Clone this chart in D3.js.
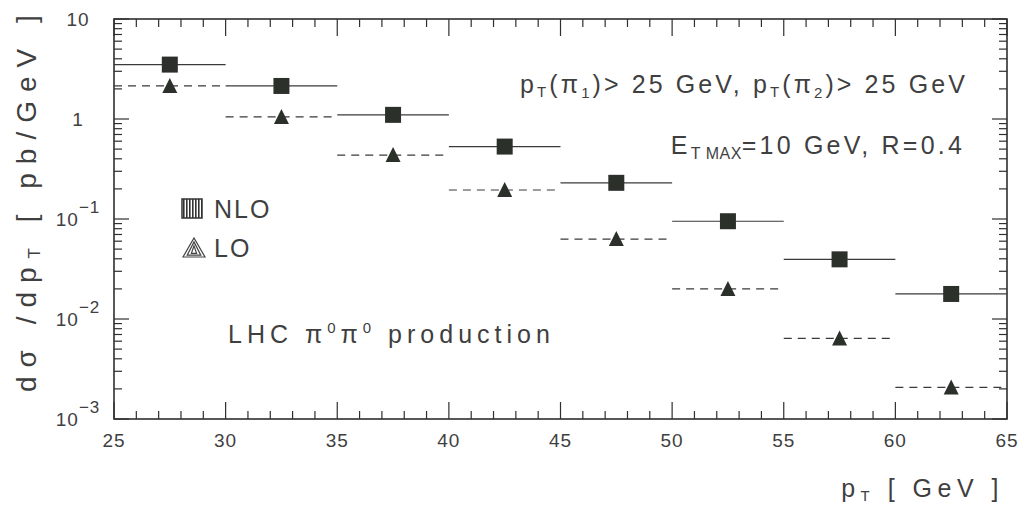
<!DOCTYPE html>
<html><head><meta charset="utf-8">
<script src="https://cdn.jsdelivr.net/npm/d3@7"></script>
<style>
body{margin:0;background:#fff}
svg text{font-family:"Liberation Sans",Arial,Helvetica,sans-serif;fill:#3f3f3f}
</style>
</head><body>
<svg id="c" width="1024" height="510"></svg>
<script>
// ---- data ----
const binLo  = [25,30,35,40,45,50,55,60];
const binHi  = [30,35,40,45,50,55,60,65];
const binMid = [27.5,32.5,37.5,42.5,47.5,52.5,57.5,62.5];
const nloVals = [3.5,2.14,1.1,0.53,0.23,0.095,0.0395,0.0178];
const loVals  = [2.14,1.05,0.436,0.195,0.063,0.020,0.0064,0.00207];
const xTickVals = [25,30,35,40,45,50,55,60,65];
const yTickVals = [10,1,0.1,0.01,0.001];
const yTickBase = ["10","1","10","10","10"];
const yTickExp  = ["","","−1","−2","−3"];

// ---- layout ----
const L=114,R=1007,T=19,B=419;
const svg=d3.select("#c");
const x=d3.scaleLinear().domain([25,65]).range([L,R]);
const y=d3.scaleLog().domain([1e-3,10]).range([B,T]);
const ink="#2f2f2f";

// frame
svg.append("rect").attr("x",L).attr("y",T).attr("width",R-L).attr("height",B-T)
  .attr("fill","none").attr("stroke",ink).attr("stroke-width",1.6);

// x ticks (bottom & top, inward)
const xMinor=d3.range(25,66,1);
function xAxisTicks(yy,dir){
  const g=svg.append("g");
  g.selectAll("line").data(xMinor).join("line")
   .attr("x1",d=>x(d)).attr("x2",d=>x(d)).attr("y1",yy)
   .attr("y2",d=>yy+dir*((d%5===0)?17:8))
   .attr("stroke",ink).attr("stroke-width",1.2);
}
xAxisTicks(B,-1); xAxisTicks(T,1);

// y ticks (left & right, inward)
const yMinor=[];
[0.001,0.01,0.1,1].forEach(dec=>{for(let k=1;k<=9;k++){yMinor.push(dec*k);}});
yMinor.push(10);
function yAxisTicks(xx,dir){
  const g=svg.append("g");
  g.selectAll("line").data(yMinor).join("line")
   .attr("y1",d=>y(d)).attr("y2",d=>y(d)).attr("x1",xx)
   .attr("x2",d=>{const m=Math.abs(Math.log10(d)-Math.round(Math.log10(d)))<1e-6;return xx+dir*(m?15:8);})
   .attr("stroke",ink).attr("stroke-width",1.2);
}
yAxisTicks(L,1); yAxisTicks(R,-1);

// x tick labels
svg.append("g").selectAll("text").data(xTickVals).join("text")
  .attr("x",d=>x(d)).attr("y",447).attr("text-anchor","middle")
  .attr("font-size",19).attr("letter-spacing",1).text(d=>d);

// y tick labels
yTickVals.forEach((v,i)=>{
  const t=svg.append("text").attr("x",78).attr("y",y(v)+7).attr("text-anchor","middle")
    .attr("font-size",19).attr("letter-spacing",1);
  t.append("tspan").text(yTickBase[i]);
  if(yTickExp[i]) t.append("tspan").attr("dy",-13).attr("font-size",17).text(yTickExp[i]);
});

// horizontal bin lines
svg.append("g").selectAll("line").data(binLo).join("line")
  .attr("x1",(d,i)=>x(binLo[i])).attr("x2",(d,i)=>x(binHi[i]))
  .attr("y1",(d,i)=>y(nloVals[i])).attr("y2",(d,i)=>y(nloVals[i]))
  .attr("stroke","#3a3a3a").attr("stroke-width",1.2);
svg.append("g").selectAll("line").data(binLo).join("line")
  .attr("x1",(d,i)=>x(binLo[i])).attr("x2",(d,i)=>x(binHi[i]))
  .attr("y1",(d,i)=>y(loVals[i])).attr("y2",(d,i)=>y(loVals[i]))
  .attr("stroke","#3a3a3a").attr("stroke-width",1.2).attr("stroke-dasharray","8,6");

// markers
const mfill="#2b302b";
svg.append("g").selectAll("rect").data(binMid).join("rect")
  .attr("x",(d)=>x(d)-8).attr("y",(d,i)=>y(nloVals[i])-8)
  .attr("width",16).attr("height",16).attr("fill",mfill);
svg.append("g").selectAll("path").data(binMid).join("path")
  .attr("d",(d,i)=>{const cx=x(d),cy=y(loVals[i]);return `M${cx-7.5},${cy+7}L${cx+7.5},${cy+7}L${cx},${cy-8}Z`;})
  .attr("fill",mfill);

// legend
const defs=svg.append("defs");
const pat=defs.append("pattern").attr("id","vh").attr("patternUnits","userSpaceOnUse")
  .attr("width",3).attr("height",3);
pat.append("rect").attr("width",3).attr("height",3).attr("fill","#fff");
pat.append("rect").attr("width",1.6).attr("height",3).attr("fill","#333");
svg.append("rect").attr("x",182).attr("y",199).attr("width",20).attr("height",19)
  .attr("fill","url(#vh)").attr("stroke","#333").attr("stroke-width",1.5);
[0,3,6].forEach(s=>{
  const cx=194,by=257-s*0.6,hw=11-s*1.4,top=238+s*1.3;
  svg.append("path").attr("d",`M${cx-hw},${by}L${cx+hw},${by}L${cx},${top}Z`)
   .attr("fill","none").attr("stroke","#444").attr("stroke-width",1.2);
});
svg.append("text").attr("x",214).attr("y",218).attr("font-size",25).attr("letter-spacing",2).text("NLO");
svg.append("text").attr("x",214).attr("y",257).attr("font-size",25).attr("letter-spacing",2).text("LO");

// annotations
const t1=svg.append("text").attr("x",968).attr("y",93).attr("text-anchor","end")
  .attr("font-size",25).attr("letter-spacing",3.1);
t1.append("tspan").text("p");
t1.append("tspan").attr("font-size",15).attr("dy",4).text("T");
t1.append("tspan").attr("dy",-4).text("(π");
t1.append("tspan").attr("font-size",15).attr("dy",5).text("1");
t1.append("tspan").attr("dy",-5).text(")> 25 GeV, p");
t1.append("tspan").attr("font-size",15).attr("dy",4).text("T");
t1.append("tspan").attr("dy",-4).text("(π");
t1.append("tspan").attr("font-size",15).attr("dy",5).text("2");
t1.append("tspan").attr("dy",-5).text(")> 25 GeV");

const t2=svg.append("text").attr("x",965).attr("y",154).attr("text-anchor","end")
  .attr("font-size",25).attr("letter-spacing",3.2);
t2.append("tspan").text("E");
t2.append("tspan").attr("font-size",16).attr("dy",5).attr("letter-spacing",0.5).text("T MAX");
t2.append("tspan").attr("dy",-5).text("=10 GeV, R=0.4");

const t3=svg.append("text").attr("x",228).attr("y",343).attr("font-size",25).attr("letter-spacing",5);
t3.append("tspan").text("LHC π");
t3.append("tspan").attr("font-size",15).attr("dy",-10).text("0");
t3.append("tspan").attr("dy",10).text("π");
t3.append("tspan").attr("font-size",15).attr("dy",-10).text("0");
t3.append("tspan").attr("dy",10).text(" production");

// axis titles
const xt=svg.append("text").attr("x",1004).attr("y",497).attr("text-anchor","end")
  .attr("font-size",25).attr("letter-spacing",5.5);
xt.append("tspan").text("p");
xt.append("tspan").attr("font-size",15).attr("dy",4).text("T");
xt.append("tspan").attr("dy",-4).text(" [ GeV ]");

const yt=svg.append("text").attr("transform","translate(36,392) rotate(-90)")
  .attr("font-size",28).attr("letter-spacing",9);
yt.append("tspan").text("dσ /dp");
yt.append("tspan").attr("font-size",17).attr("dy",4).text("T");
yt.append("tspan").attr("dy",-4).text("  [ pb/GeV ]");
</script>
</body></html>
